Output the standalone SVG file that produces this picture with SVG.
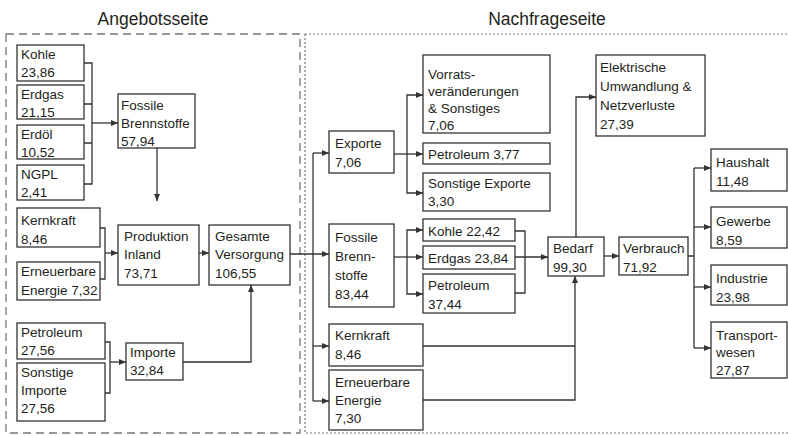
<svg xmlns="http://www.w3.org/2000/svg" width="788" height="436" viewBox="0 0 788 436">
<defs>
<marker id="ah" markerUnits="userSpaceOnUse" markerWidth="7" markerHeight="6" refX="7" refY="3" orient="auto"><path d="M0,0 L7,3 L0,6 z" fill="#333"/></marker>
<style>
.b{fill:#fff;stroke:#333;stroke-width:1.3}
text{font-family:"Liberation Sans",Arial,sans-serif;font-size:13.5px;fill:#231f20}
.t{font-size:17.5px;text-anchor:middle}
.c path{fill:none;stroke:#333;stroke-width:1.3}
.a{marker-end:url(#ah)}
</style>
</defs>
<rect x="0" y="0" width="788" height="436" fill="#fff"/>
<text class="t" x="153" y="25">Angebotsseite</text>
<text class="t" x="547" y="25">Nachfrageseite</text>
<rect x="6" y="34" width="294" height="399" fill="none" stroke="#777" stroke-width="1.3" stroke-dasharray="8 5"/>
<rect x="305" y="34" width="500" height="399" fill="none" stroke="#777" stroke-width="1.2" stroke-dasharray="2 2"/>
<g class="c" id="connectors">
<path d="M84,63 H92 V184 H84 M84,104 H92 M84,143 H92"/>
<path class="a" d="M92,123 H118"/>
<path class="a" d="M157,148 V201"/>
<path d="M100,228 H105 V279 H100"/>
<path class="a" d="M105,253 H118"/>
<path class="a" d="M199,253 H209"/>
<path d="M105,342 H110 V393 H105"/>
<path class="a" d="M110,362 H126"/>
<path class="a" d="M183,362 H251 V285"/>
<path class="a" d="M290,254 H329"/>
<path d="M313,153 V401"/>
<path class="a" d="M313,153 H329"/>
<path class="a" d="M313,346 H329"/>
<path class="a" d="M313,401 H329"/>
<path class="a" d="M394,154 H423"/>
<path class="a" d="M407,154 V95 H423"/>
<path class="a" d="M407,154 V193 H423"/>
<path class="a" d="M394,257 H423"/>
<path class="a" d="M407,257 V230 H423"/>
<path class="a" d="M407,257 V294 H423"/>
<path d="M515,231 H525 V293 H515"/>
<path class="a" d="M515,257 H548"/>
<path class="a" d="M576,237 V97 H596"/>
<path class="a" d="M604,256 H619"/>
<path d="M688,256 H694 M694,168 V348"/>
<path class="a" d="M694,168 H711"/>
<path class="a" d="M694,227 H711"/>
<path class="a" d="M694,287 H711"/>
<path class="a" d="M694,348 H711"/>
<path d="M423,346 H575"/>
<path class="a" d="M423,400 H575 V276"/>
</g>
<g id="kohle"><rect class="b" x="17" y="45" width="67" height="36"/><text x="21" y="59">Kohle</text><text x="21" y="77">23,86</text></g>
<g id="erdgas"><rect class="b" x="17" y="85" width="67" height="34"/><text x="21" y="99">Erdgas</text><text x="21" y="117">21,15</text></g>
<g id="erdoel"><rect class="b" x="17" y="125" width="67" height="34"/><text x="21" y="139">Erdöl</text><text x="21" y="157">10,52</text></g>
<g id="ngpl"><rect class="b" x="17" y="165" width="67" height="35"/><text x="21" y="179">NGPL</text><text x="21" y="197">2,41</text></g>
<g id="fossile-a"><rect class="b" x="118" y="94" width="77" height="54"/><text x="121" y="110">Fossile</text><text x="121" y="128">Brennstoffe</text><text x="121" y="146">57,94</text></g>
<g id="kernkraft-a"><rect class="b" x="17" y="208" width="83" height="39"/><text x="21" y="225">Kernkraft</text><text x="21" y="244">8,46</text></g>
<g id="erneuerbare-a"><rect class="b" x="17" y="262" width="83" height="38"/><text x="21" y="276">Erneuerbare</text><text x="21" y="295">Energie 7,32</text></g>
<g id="produktion"><rect class="b" x="118" y="225" width="81" height="60"/><text x="124" y="241">Produktion</text><text x="124" y="259">Inland</text><text x="124" y="278">73,71</text></g>
<g id="gesamte"><rect class="b" x="209" y="225" width="81" height="60"/><text x="215" y="241">Gesamte</text><text x="215" y="259">Versorgung</text><text x="215" y="278">106,55</text></g>
<g id="petroleum-imp"><rect class="b" x="17" y="323" width="88" height="36"/><text x="21" y="337">Petroleum</text><text x="21" y="355">27,56</text></g>
<g id="sonstige-imp"><rect class="b" x="17" y="363" width="88" height="58"/><text x="21" y="377">Sonstige</text><text x="21" y="395">Importe</text><text x="21" y="413">27,56</text></g>
<g id="importe"><rect class="b" x="126" y="343" width="57" height="37"/><text x="130" y="357">Importe</text><text x="130" y="375">32,84</text></g>
<g id="exporte"><rect class="b" x="329" y="131" width="65" height="42"/><text x="335" y="148">Exporte</text><text x="335" y="167">7,06</text></g>
<g id="vorrats"><rect class="b" x="423" y="55" width="127" height="78"/><text x="428" y="79">Vorrats-</text><text x="428" y="96">veränderungen</text><text x="428" y="113">&amp; Sonstiges</text><text x="428" y="130">7,06</text></g>
<g id="petroleum-exp"><rect class="b" x="423" y="143" width="127" height="21"/><text x="428" y="159">Petroleum 3,77</text></g>
<g id="sonstige-exp"><rect class="b" x="423" y="173" width="127" height="38"/><text x="428" y="188">Sonstige Exporte</text><text x="428" y="206">3,30</text></g>
<g id="fossile-n"><rect class="b" x="329" y="224" width="65" height="83"/><text x="335" y="242">Fossile</text><text x="335" y="261">Brenn-</text><text x="335" y="280">stoffe</text><text x="335" y="299">83,44</text></g>
<g id="kohle-n"><rect class="b" x="423" y="219" width="92" height="22"/><text x="428" y="236">Kohle 22,42</text></g>
<g id="erdgas-n"><rect class="b" x="423" y="246" width="92" height="23"/><text x="428" y="263">Erdgas 23,84</text></g>
<g id="petroleum-n"><rect class="b" x="423" y="274" width="92" height="39"/><text x="428" y="290">Petroleum</text><text x="428" y="309">37,44</text></g>
<g id="kernkraft-n"><rect class="b" x="329" y="324" width="94" height="42"/><text x="335" y="340">Kernkraft</text><text x="335" y="359">8,46</text></g>
<g id="erneuerbare-n"><rect class="b" x="329" y="370" width="94" height="60"/><text x="335" y="387">Erneuerbare</text><text x="335" y="405">Energie</text><text x="335" y="423">7,30</text></g>
<g id="bedarf"><rect class="b" x="548" y="237" width="56" height="39"/><text x="553" y="253">Bedarf</text><text x="553" y="272">99,30</text></g>
<g id="elektrische"><rect class="b" x="596" y="55" width="109" height="81"/><text x="600" y="72">Elektrische</text><text x="600" y="91">Umwandlung &amp;</text><text x="600" y="110">Netzverluste</text><text x="600" y="129">27,39</text></g>
<g id="verbrauch"><rect class="b" x="619" y="237" width="69" height="38"/><text x="623" y="253">Verbrauch</text><text x="623" y="272">71,92</text></g>
<g id="haushalt"><rect class="b" x="711" y="149" width="76" height="42"/><text x="716" y="167">Haushalt</text><text x="716" y="186">11,48</text></g>
<g id="gewerbe"><rect class="b" x="711" y="207" width="76" height="41"/><text x="716" y="226">Gewerbe</text><text x="716" y="245">8,59</text></g>
<g id="industrie"><rect class="b" x="711" y="265" width="76" height="40"/><text x="716" y="283">Industrie</text><text x="716" y="302">23,98</text></g>
<g id="transport"><rect class="b" x="711" y="322" width="76" height="56"/><text x="716" y="340">Transport-</text><text x="716" y="357">wesen</text><text x="716" y="375">27,87</text></g>
</svg>
